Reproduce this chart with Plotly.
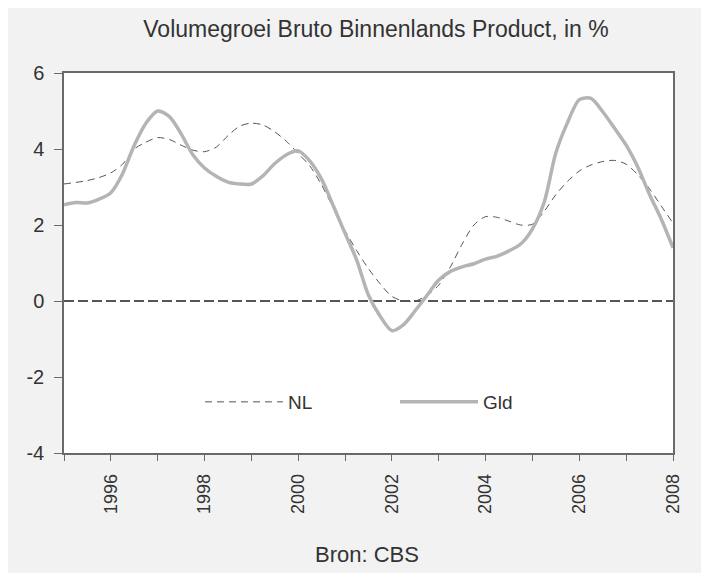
import plotly.graph_objects as go

# Quarterly time axis (decimal years)
quarters = [1995 + 0.25 * i for i in range(53)]

nl_growth = [3.08, 3.12, 3.17, 3.25, 3.37, 3.60, 4.00, 4.18, 4.30, 4.25, 4.10, 3.97,
             3.93, 4.05, 4.35, 4.60, 4.68, 4.63, 4.45, 4.20, 3.88, 3.55, 3.05, 2.45,
             1.85, 1.32, 0.85, 0.45, 0.12, 0.00, 0.00, 0.15, 0.42, 0.90, 1.50, 2.00,
             2.22, 2.20, 2.10, 2.00, 2.02, 2.36, 2.80, 3.15, 3.42, 3.58, 3.67, 3.70,
             3.60, 3.32, 2.95, 2.50, 2.05]

gld_growth = [2.53, 2.59, 2.58, 2.68, 2.85, 3.35, 4.10, 4.68, 5.00, 4.85, 4.40, 3.85,
              3.50, 3.28, 3.13, 3.08, 3.08, 3.30, 3.62, 3.85, 3.95, 3.68, 3.20, 2.50,
              1.78, 1.07, 0.15, -0.40, -0.78, -0.62, -0.25, 0.15, 0.55, 0.78, 0.90, 0.98,
              1.10, 1.18, 1.32, 1.50, 1.90, 2.60, 3.90, 4.70, 5.30, 5.33, 4.98, 4.55,
              4.10, 3.52, 2.80, 2.15, 1.40]

series_names = ["NL", "Gld"]
y_tick_values = [-4, -2, 0, 2, 4, 6]
y_tick_labels = ["-4", "-2", "0", "2", "4", "6"]
title_text = "Volumegroei Bruto Binnenlands Product, in %"
source_text = "Bron: CBS"

FONT = "Liberation Sans, Arial, sans-serif"
TXT = "#333333"
AXC = "#6a6a6a"

fig = go.Figure()
fig.add_trace(go.Scatter(
    x=quarters, y=nl_growth, name=series_names[0], mode="lines",
    line=dict(color="#555555", width=1, dash="7px,5px", shape="spline", smoothing=0.8),
))
fig.add_trace(go.Scatter(
    x=quarters, y=gld_growth, name=series_names[1], mode="lines",
    line=dict(color="#b4b4b4", width=3.5, shape="spline", smoothing=0.8),
))

# zero reference line
fig.add_shape(type="line", xref="paper", x0=0, x1=1, yref="y", y0=0, y1=0,
              line=dict(color="#555555", width=2, dash="10px,4px"), layer="below")

fig.add_annotation(text=source_text, xref="paper", yref="paper",
                   x=(367 - 64) / 609, y=(453 - 554) / 380, showarrow=False,
                   xanchor="center", yanchor="middle",
                   font=dict(family=FONT, size=22, color=TXT))

fig.update_layout(
    width=701, height=565,
    margin=dict(l=56, r=36, t=65, b=120),
    paper_bgcolor="#f2f2f2",
    plot_bgcolor="white",
    font=dict(family=FONT, color=TXT),
    title=dict(text=title_text, x=(376 - 64) / 609, xref="paper", xanchor="center",
               y=1 - (29 - 8) / 565, yanchor="middle",
               font=dict(size=23, color=TXT, family=FONT)),
    showlegend=True,
    legend=dict(orientation="h", x=(200 - 64) / 609, y=(453 - 402) / 380,
                xanchor="left", yanchor="middle", bgcolor="rgba(0,0,0,0)",
                font=dict(size=19, color=TXT, family=FONT),
                entrywidth=102, entrywidthmode="pixels", itemwidth=78),
    xaxis=dict(range=[1995, 2008], tick0=1996, dtick=2, tickmode="linear",
               ticks="outside", ticklen=6, tickwidth=1, tickcolor=AXC,
               tickangle=-90, tickfont=dict(size=18, color=TXT),
               ticklabelstandoff=6,
               minor=dict(tick0=1995, dtick=1, ticks="outside", ticklen=6,
                          tickwidth=1, tickcolor=AXC, showgrid=False),
               showgrid=False, zeroline=False, showline=True, mirror=True,
               linecolor=AXC, linewidth=1.5),
    yaxis=dict(range=[-4, 6], tickmode="array", tickvals=y_tick_values,
               ticktext=y_tick_labels,
               ticks="outside", ticklen=8, tickwidth=1, tickcolor=AXC,
               tickfont=dict(size=20, color=TXT), ticklabelstandoff=6,
               showgrid=False, zeroline=False, showline=True, mirror=True,
               linecolor=AXC, linewidth=1.5),
)

fig.write_html("out.html")
